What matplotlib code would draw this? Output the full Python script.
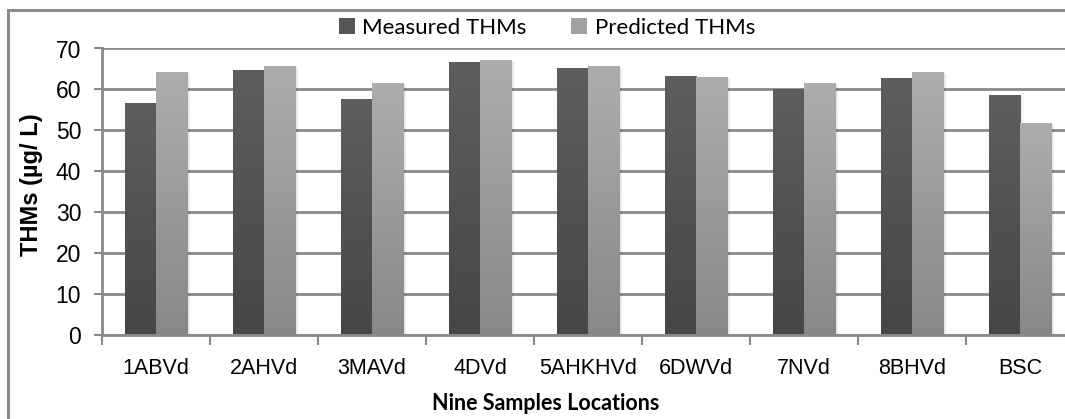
import numpy as np
import matplotlib
matplotlib.use("Agg")
import matplotlib.pyplot as plt
from matplotlib.patches import Rectangle, Patch
from matplotlib.colors import LinearSegmentedColormap

categories = ["1ABVd", "2AHVd", "3MAVd", "4DVd", "5AHKHVd", "6DWVd", "7NVd", "8BHVd", "BSC"]
measured = [56.7, 64.7, 57.6, 66.7, 65.2, 63.2, 60.0, 62.7, 58.6]
predicted = [64.2, 65.7, 61.5, 67.2, 65.7, 63.0, 61.5, 64.2, 51.7]
series_names = ["Measured THMs", "Predicted THMs"]
yticks = [0, 10, 20, 30, 40, 50, 60, 70]

W, H = 1065, 419
fig = plt.figure(figsize=(W / 100, H / 100), dpi=100)
fig.patch.set_facecolor("white")

left, right, top, bottom = 102, 1074, 48.5, 334.5
ax = fig.add_axes([left / W, (H - bottom) / H, (right - left) / W, (bottom - top) / H])

x = np.arange(len(categories))
w = 0.29
grid_c = "#898989"

cm_meas = LinearSegmentedColormap.from_list("m", ["#464646", "#5e5e5e"])
cm_pred = LinearSegmentedColormap.from_list("p", ["#888888", "#adadad"])
grad = np.linspace(0, 1, 256).reshape(-1, 1)

def draw_bars(xs, vals, cmap):
    bars = ax.bar(xs, vals, w, color="none", edgecolor="none", zorder=3)
    for b in bars:
        bx, by = b.get_x(), b.get_y()
        bw, bh = b.get_width(), b.get_height()
        # soft shadow
        for k, a in enumerate([0.05, 0.035, 0.02]):
            sh = Rectangle((bx + 0.012 * (k + 1), by), bw, bh - 0.15 * (k + 1),
                           facecolor="black", alpha=a, edgecolor="none", zorder=2)
            ax.add_patch(sh)
        im = ax.imshow(grad, extent=(bx, bx + bw, by, by + bh), origin="lower",
                       cmap=cmap, aspect="auto", zorder=3, interpolation="bilinear")
        im.set_clip_path(b)
    return bars

draw_bars(x - w / 2, measured, cm_meas)
draw_bars(x + w / 2, predicted, cm_pred)

ax.set_xlim(-0.5, len(categories) - 0.5)
ax.set_ylim(0, 70)
ax.set_yticks(yticks)
ax.set_yticklabels([str(v) for v in yticks], fontsize=16.5, family="Liberation Sans")
ax.yaxis.grid(True, color=grid_c, lw=2, zorder=0)
ax.set_axisbelow(True)

ax.set_xticks(np.arange(-0.5, len(categories), 1.0))
ax.set_xticklabels([])
ax.set_xticks(x, minor=True)
ax.set_xticklabels(categories, minor=True, fontsize=15.5, family="Liberation Sans")
ax.tick_params(axis="x", which="minor", length=0, pad=17)
ax.tick_params(axis="x", which="major", length=7, width=1.5, color=grid_c, direction="out")
ax.tick_params(axis="y", length=6, width=1.5, color=grid_c, direction="out", pad=9)

for s in ["top", "right"]:
    ax.spines[s].set_visible(False)
for s in ["left", "bottom"]:
    ax.spines[s].set_color(grid_c)
    ax.spines[s].set_linewidth(2)

ax.set_ylabel("THMs (µg/ L)", fontsize=17, fontweight="bold", family="Liberation Sans")
ax.yaxis.set_label_coords((43 - left) / (right - left), (bottom - 185) / (bottom - top))
fig.text(546 / W, 1 - 403 / H, "Nine Samples Locations", ha="center", va="center",
         fontsize=15.5, fontweight="bold", family="Lato")

handles = [Patch(facecolor="#555555", edgecolor="none"), Patch(facecolor="#a0a0a0", edgecolor="none")]
leg = fig.legend(handles, series_names, loc="center", bbox_to_anchor=(547 / W, 1 - 28 / H),
                 ncol=2, frameon=False, prop={"family": "Lato", "size": 16},
                 handlelength=0.7, handleheight=0.7, handletextpad=0.35, columnspacing=2.0)

fig.add_artist(Rectangle((8 / W, -0.2), 2.0, 1.2 - 10 / H, transform=fig.transFigure,
                         fill=False, edgecolor="#8c8c8c", lw=2.2))

fig.savefig("out.png", dpi=100)
